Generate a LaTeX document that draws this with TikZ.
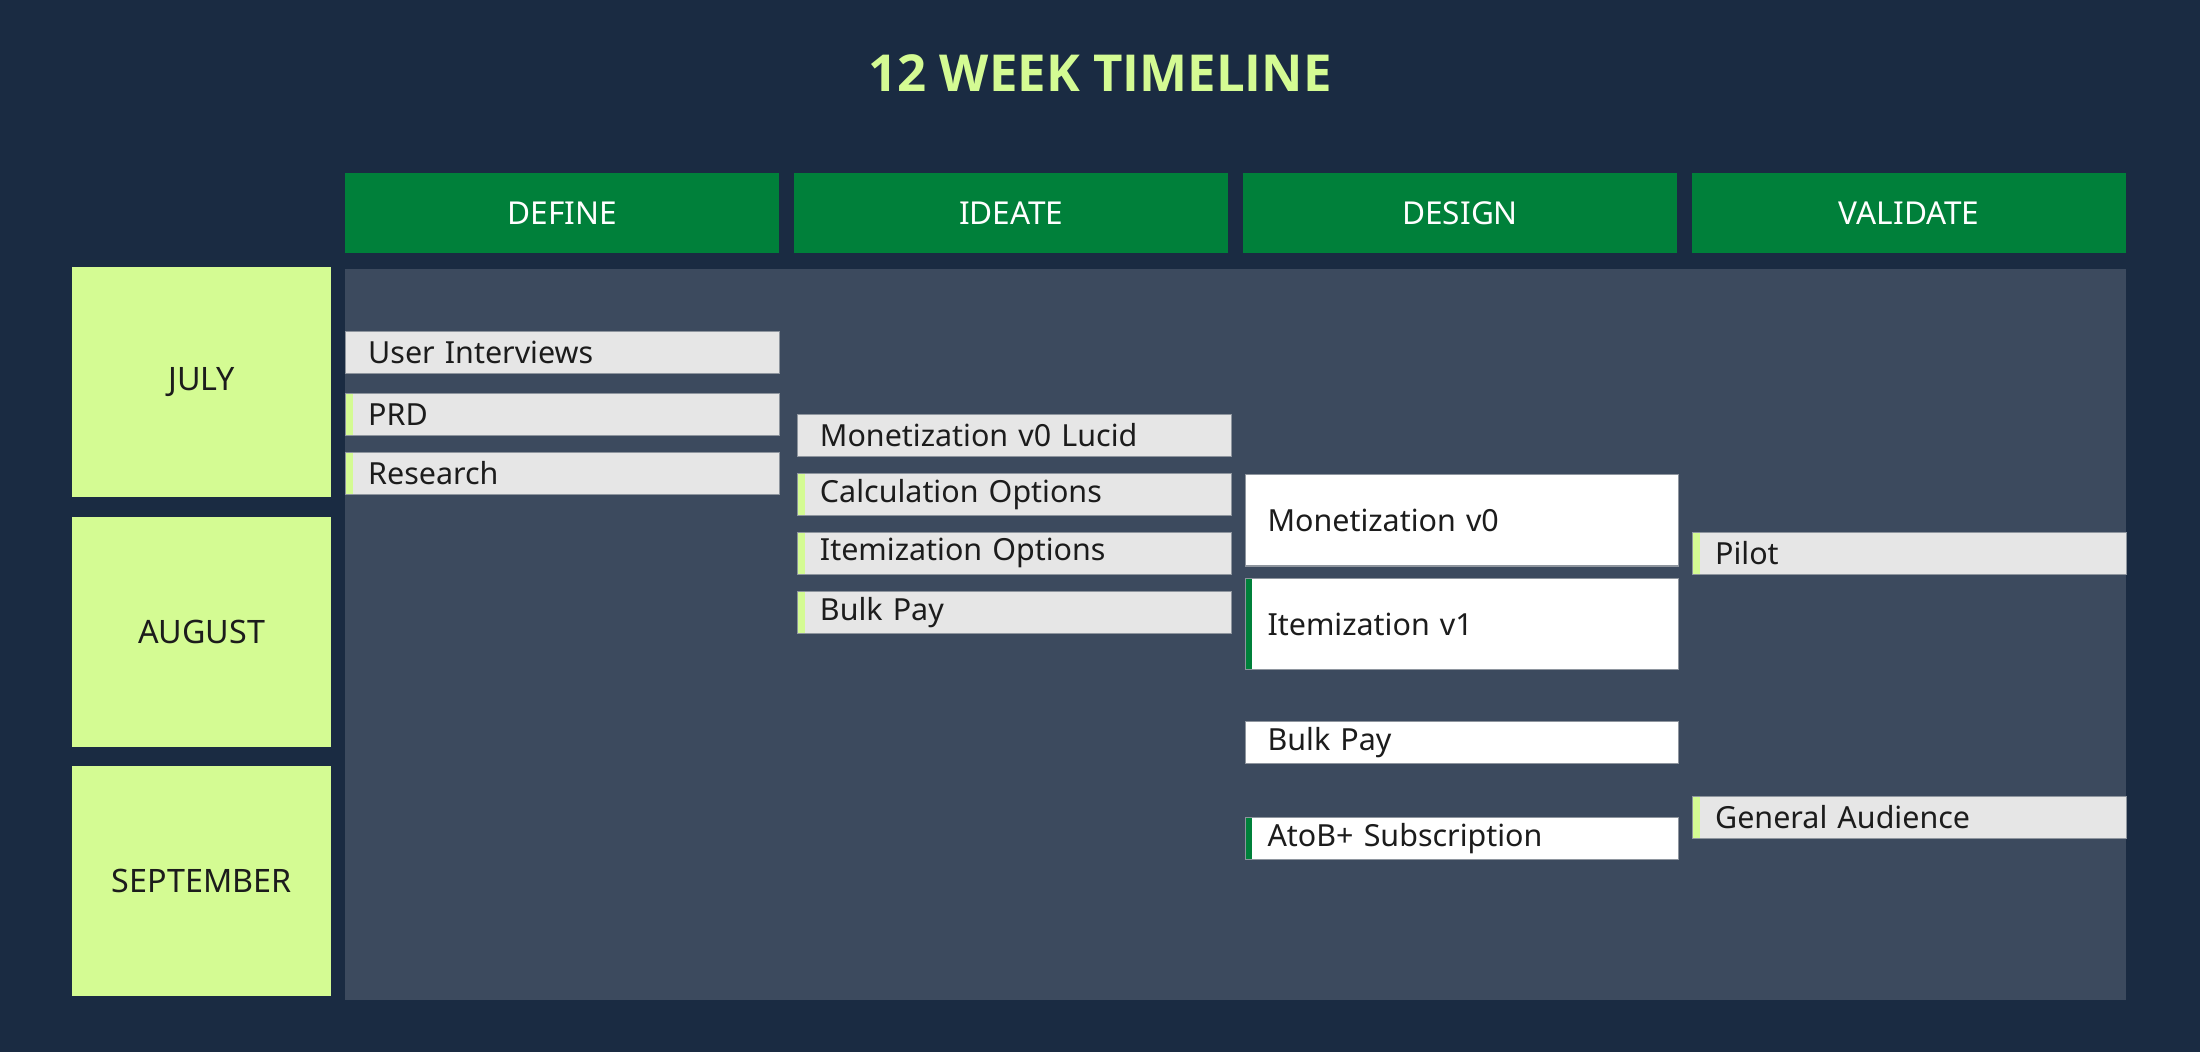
\documentclass[tikz,border=0pt]{standalone}
\usepackage{fontspec}
\setmainfont{Noto Sans}
\newfontfamily\headlinefont{Open Sans}

\definecolor{bgnavy}{HTML}{1A2B42}
\definecolor{panelgray}{HTML}{3C4A5E}
\definecolor{phasegreen}{HTML}{00803A}
\definecolor{limegreen}{HTML}{D4FB93}
\definecolor{itemgray}{HTML}{E6E6E6}
\definecolor{edgegray}{HTML}{8E959E}
\definecolor{inkdark}{HTML}{1C1C1C}

\tikzset{
  phase/.style={fill=phasegreen, text=white, minimum width=309pt, minimum height=57pt,
    inner sep=0pt, anchor=north west, font=\fontsize{22.5}{26}\selectfont},
  month/.style={fill=limegreen, text=inkdark, minimum width=185pt, minimum height=164pt,
    inner sep=0pt, anchor=north west, font=\fontsize{23}{27}\selectfont},
  task/.style={fill=itemgray, draw=edgegray, line width=0.8pt, anchor=north west,
    minimum height=30pt, inner xsep=16pt, inner ysep=0pt, text width=277pt,
    align=left, text=inkdark, font=\fontsize{21.7}{25}\selectfont},
  taskwhite/.style={task, fill=white},
  tall/.style={minimum height=65pt},
  barlight/.style={path picture={\fill[limegreen] (path picture bounding box.north west)
    rectangle ([xshift=5pt]path picture bounding box.south west);}},
  bardark/.style={path picture={\fill[phasegreen] (path picture bounding box.north west)
    rectangle ([xshift=5pt]path picture bounding box.south west);}},
}

\begin{document}
\begin{tikzpicture}[x=1pt,y=-1pt]
    \fill[bgnavy] (0,0) rectangle (1568,749.8);
    \useasboundingbox (0,0) rectangle (1568,749.8);

    \node[font=\headlinefont\fontsize{36.3}{40}\selectfont\bfseries, text=limegreen] (title) at (784,52) {12 WEEK TIMELINE};

    \node[phase] (define) at (246,123) {DEFINE};
    \node[phase] (ideate) at (566,123) {IDEATE};
    \node[phase] (design) at (886,123) {DESIGN};
    \node[phase] (validate) at (1206,123) {VALIDATE};

    \node[month] (july) at (51,190) {JULY};
    \node[month] (august) at (51,368) {AUGUST};
    \node[month] (september) at (51,546) {SEPTEMBER};

    \fill[panelgray] (246,192) rectangle (1515,713);

    \node[task] (interviews) at (246,236) {User Interviews};
    \node[task,barlight] (prd) at (246,280) {PRD};
    \node[task,barlight] (research) at (246,322) {Research};

    \node[task] (lucid) at (568,295) {Monetization v0 Lucid};
    \node[task,barlight] (calcopts) at (568,337) {Calculation Options};
    \node[task,barlight] (itemopts) at (568,379) {Itemization Options};
    \node[task,barlight] (bulkidea) at (568,421) {Bulk Pay};

    \node[taskwhite,tall] (monv0) at (887,338) {Monetization v0};
    \node[taskwhite,tall,bardark] (itemv1) at (887,412) {Itemization v1};
    \node[taskwhite] (bulkdesign) at (887,514) {Bulk Pay};
    \node[taskwhite,bardark] (subscription) at (887,582) {AtoB+ Subscription};

    \node[task,barlight] (pilot) at (1206,379) {Pilot};
    \node[task,barlight] (audience) at (1206,567) {General Audience};
\end{tikzpicture}
\end{document}
